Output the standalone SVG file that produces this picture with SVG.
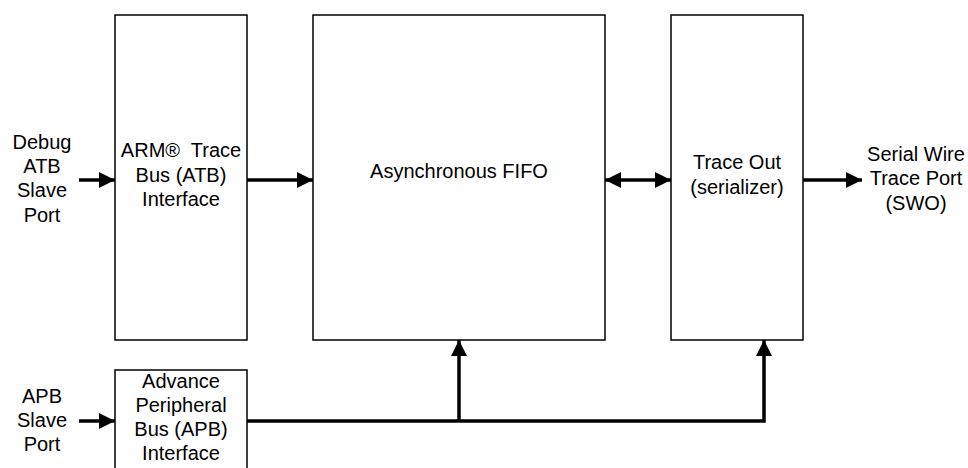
<svg xmlns="http://www.w3.org/2000/svg" width="968" height="468" viewBox="0 0 968 468">
<style>
.box{fill:#fff;stroke:#000;stroke-width:1.5}
.t{font-family:"Liberation Sans",Arial,sans-serif;font-size:20px;fill:#000;text-anchor:middle}
.c{fill:none;stroke:#000;stroke-width:3.5}
</style>
<defs>
<marker id="ah" markerUnits="userSpaceOnUse" markerWidth="17" markerHeight="16" refX="16" refY="8" orient="auto-start-reverse" viewBox="0 0 17 16">
<path d="M0,0 L16,8 L0,16 Z" fill="#000"/>
</marker>
</defs>
<rect width="968" height="468" fill="#fff"/>
<g id="n-atb">
<rect class="box" x="115" y="15" width="132" height="325"/>
<text class="t" x="181" y="157">ARM®&#160; Trace</text>
<text class="t" x="181" y="182">Bus (ATB)</text>
<text class="t" x="181" y="206">Interface</text>
</g>
<g id="n-fifo">
<rect class="box" x="313" y="15" width="292" height="325"/>
<text class="t" x="459" y="178">Asynchronous FIFO</text>
</g>
<g id="n-traceout">
<rect class="box" x="671" y="15" width="132" height="325"/>
<text class="t" x="737" y="169">Trace Out</text>
<text class="t" x="737" y="194">(serializer)</text>
</g>
<g id="n-apb">
<rect class="box" x="115" y="370" width="132" height="110"/>
<text class="t" x="181" y="388">Advance</text>
<text class="t" x="181" y="412">Peripheral</text>
<text class="t" x="181" y="436">Bus (APB)</text>
<text class="t" x="181" y="460">Interface</text>
</g>
<g id="n-debug-label">
<text class="t" x="42" y="149">Debug</text>
<text class="t" x="42" y="173">ATB</text>
<text class="t" x="42" y="197">Slave</text>
<text class="t" x="42" y="222">Port</text>
</g>
<g id="n-apb-label">
<text class="t" x="42" y="403">APB</text>
<text class="t" x="42" y="427">Slave</text>
<text class="t" x="42" y="451">Port</text>
</g>
<g id="n-swo-label">
<text class="t" x="916" y="161">Serial Wire</text>
<text class="t" x="916" y="185">Trace Port</text>
<text class="t" x="916" y="210">(SWO)</text>
</g>
<g id="connectors">
<path class="c" d="M79,180 H115" marker-end="url(#ah)"/>
<path class="c" d="M247,180 H313" marker-end="url(#ah)"/>
<path class="c" d="M605,180 H671" marker-start="url(#ah)" marker-end="url(#ah)"/>
<path class="c" d="M803,180 H862" marker-end="url(#ah)"/>
<path class="c" d="M79,421 H115" marker-end="url(#ah)"/>
<path class="c" d="M247,421 H764 V340" marker-end="url(#ah)"/>
<path class="c" d="M459,421 V340" marker-end="url(#ah)"/>
</g>
</svg>
